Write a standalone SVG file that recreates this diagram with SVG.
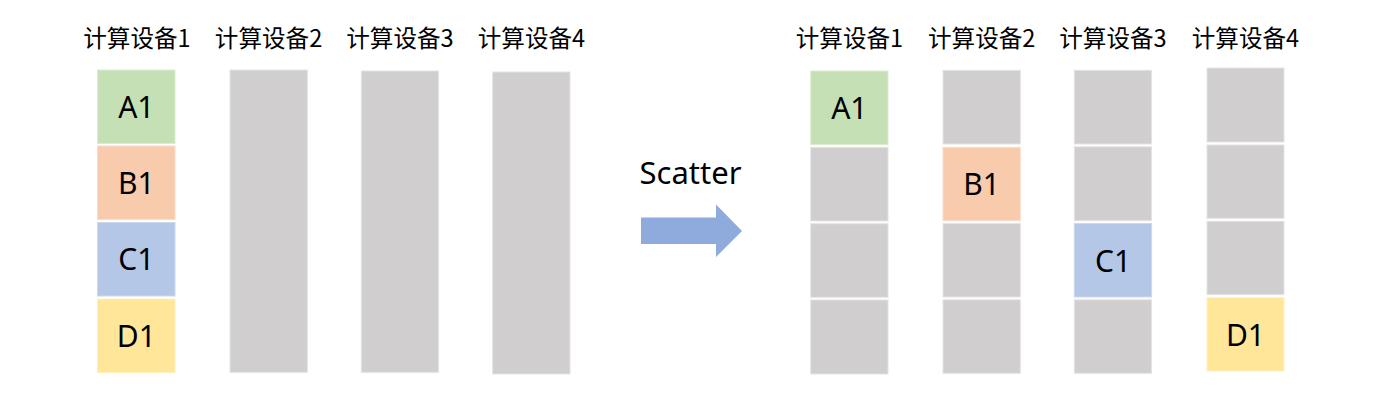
<svg xmlns="http://www.w3.org/2000/svg" width="1385" height="415" viewBox="0 0 1385 415">
  <style>
    .hdr { font-family: "Noto Sans CJK SC", "Noto Sans", sans-serif; font-size: 23.6px; fill: #000; text-anchor: middle; }
    .lbl { font-family: "Noto Sans", "Noto Sans CJK SC", sans-serif; font-size: 30px; fill: #000; text-anchor: middle; }
    .ttl { font-family: "Noto Sans", "Noto Sans CJK SC", sans-serif; font-size: 31px; fill: #000; }
    .gray { fill: #D0CECE; stroke: #E4E4E4; stroke-width: 1; }
    .a { fill: #C5E0B4; stroke: #DDEBD3; stroke-width: 1; }
    .b { fill: #F8CBAD; stroke: #FADCC8; stroke-width: 1; }
    .c { fill: #B4C7E7; stroke: #CBD8EE; stroke-width: 1; }
    .d { fill: #FFE699; stroke: #FFEFBF; stroke-width: 1; }
    .arrow { fill: #8FAADC; }
  </style>
  <rect x="0" y="0" width="1385" height="415" fill="#FFFFFF"/>

  <!-- Left: before scatter -->
  <g id="left-device1">
    <text class="hdr" x="137" y="46.5">计算设备1</text>
    <rect class="a" x="97.5" y="70" width="77.5" height="73.5"/>
    <text class="lbl" x="136.3" y="117.5">A1</text>
    <rect class="b" x="97.5" y="146" width="77.5" height="73.5"/>
    <text class="lbl" x="136.3" y="193.5">B1</text>
    <rect class="c" x="97.5" y="222.5" width="77.5" height="73.5"/>
    <text class="lbl" x="136.3" y="270">C1</text>
    <rect class="d" x="97.5" y="299" width="77.5" height="73.5"/>
    <text class="lbl" x="136.3" y="346.5">D1</text>
  </g>
  <g id="left-device2">
    <text class="hdr" x="268.6" y="46.5">计算设备2</text>
    <rect class="gray" x="230" y="70" width="77.3" height="302.3"/>
  </g>
  <g id="left-device3">
    <text class="hdr" x="400" y="46.5">计算设备3</text>
    <rect class="gray" x="361.3" y="71" width="77.3" height="301.3"/>
  </g>
  <g id="left-device4">
    <text class="hdr" x="531.5" y="46.5">计算设备4</text>
    <rect class="gray" x="492.7" y="72" width="77.3" height="302"/>
  </g>

  <!-- Scatter arrow -->
  <g id="connectors">
    <text class="ttl" x="639.5" y="183.5">Scatter</text>
    <polygon class="arrow" points="641,217.5 716,217.5 716,204.5 742,231 716,257 716,244 641,244"/>
  </g>

  <!-- Right: after scatter -->
  <g id="right-device1">
    <text class="hdr" x="849.5" y="46.5">计算设备1</text>
    <rect class="a" x="810.7" y="71" width="77.3" height="73.7"/>
    <text class="lbl" x="849.3" y="118.5">A1</text>
    <rect class="gray" x="810.7" y="147.3" width="77.3" height="73.7"/>
    <rect class="gray" x="810.7" y="223.7" width="77.3" height="73.6"/>
    <rect class="gray" x="810.7" y="300" width="77.3" height="74"/>
  </g>
  <g id="right-device2">
    <text class="hdr" x="981.7" y="46.5">计算设备2</text>
    <rect class="gray" x="943" y="70.3" width="77.3" height="73.7"/>
    <rect class="b" x="943" y="147.3" width="77.3" height="73.4"/>
    <text class="lbl" x="981.7" y="195">B1</text>
    <rect class="gray" x="943" y="223.5" width="77.3" height="73.5"/>
    <rect class="gray" x="943" y="299.8" width="77.3" height="73.5"/>
  </g>
  <g id="right-device3">
    <text class="hdr" x="1113" y="46.5">计算设备3</text>
    <rect class="gray" x="1074.3" y="70.3" width="77.3" height="73.7"/>
    <rect class="gray" x="1074.3" y="146.8" width="77.3" height="73.9"/>
    <rect class="c" x="1074.3" y="223.5" width="77.3" height="73.5"/>
    <text class="lbl" x="1113" y="271.5">C1</text>
    <rect class="gray" x="1074.3" y="299.8" width="77.3" height="73.5"/>
  </g>
  <g id="right-device4">
    <text class="hdr" x="1245.5" y="46.5">计算设备4</text>
    <rect class="gray" x="1207" y="68" width="77" height="74"/>
    <rect class="gray" x="1207" y="145" width="77" height="73.3"/>
    <rect class="gray" x="1207" y="221.3" width="77" height="73.4"/>
    <rect class="d" x="1207" y="297.7" width="77" height="73.3"/>
    <text class="lbl" x="1245.5" y="345.5">D1</text>
  </g>
</svg>
